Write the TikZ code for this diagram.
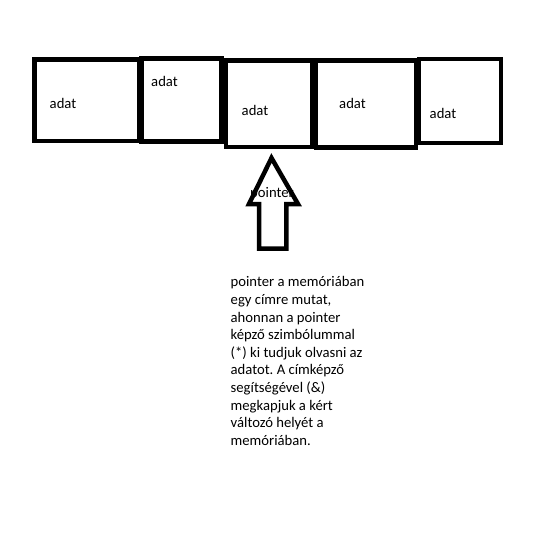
\documentclass[tikz,border=0pt]{standalone}
\usepackage{fontspec}
\setmainfont{Carlito}
\usetikzlibrary{positioning}
\frenchspacing

\begin{document}
\begin{tikzpicture}[x=1pt,y=-1pt,
  cell/.style={draw,line width=4.5pt,inner sep=0pt},
  lbl/.style={inner sep=0pt,font=\fontsize{14.67}{17.6}\selectfont}]
  \useasboundingbox (0,0) rectangle (535,549);

  % Memory cells
  \foreach \i/\cx/\cy/\w/\h/\lx/\ly in {1/86.75/100.25/104.5/81.5/63/103.5,
      2/181.6/100/80.2/83/164.5/81.5, 3/269.25/103.65/86.5/86.7/255/110,
      4/366/104/100/87/352.5/103, 5/460/101/82/84/443/113.5} {
    \node[cell,minimum width=\w,minimum height=\h] (c\i) at (\cx,\cy) {};
    \node[lbl] (l\i) at (\lx,\ly) {adat};
  }

  % Pointer arrow
  \draw[line width=4.5pt,line join=miter]
    (271.5,158) -- (298,204) -- (286.3,204) -- (286.3,248.5)
    -- (259,248.5) -- (259,204) -- (249,204) -- cycle;
  \node[lbl] (p) at (272,194) {pointer};

  % Explanation
  \node[lbl,anchor=north west,align=left] (txt) at (230.5,276.5)
    {pointer a memóriában\\egy címre mutat,\\ahonnan a pointer\\képző szimbólummal\\(*) ki tudjuk olvasni az\\adatot. A címképző\\segítségével (\&)\\megkapjuk a kért\\változó helyét a\\memóriában.};
\end{tikzpicture}
\end{document}
